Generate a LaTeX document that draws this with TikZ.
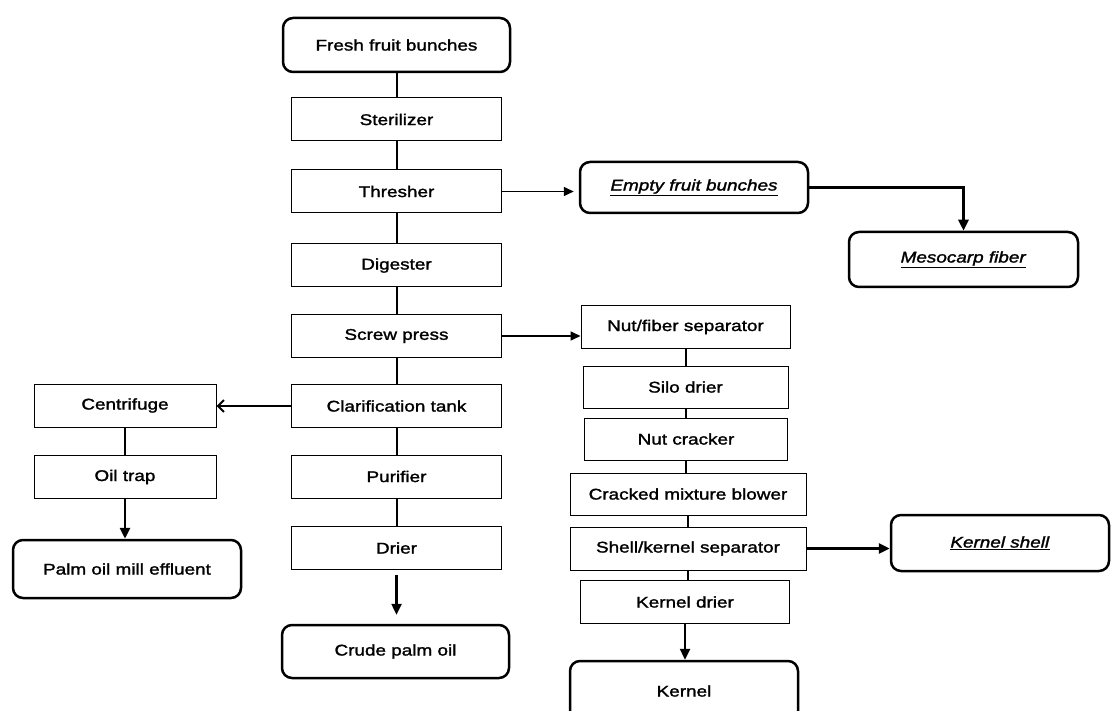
\documentclass[tikz,border=0pt]{standalone}
\usepackage{fontspec}
\setmainfont{Liberation Sans}[FakeStretch=1.22,FakeBold=1.6]
\usetikzlibrary{arrows.meta}
\newcommand{\boxfont}{\fontsize{15.5}{18}\selectfont}
\begin{document}
\begin{tikzpicture}[x=1pt,y=-1pt,
  box/.style={draw,line width=1pt,minimum height=43pt,inner sep=0pt,font=\boxfont},
  rbox/.style={draw,line width=2.5pt,rounded corners=10pt,inner sep=0pt,font=\boxfont},
  conn/.style={line width=2pt},
  arr/.style={line width=2.4pt,-{Triangle[length=11pt,width=10pt]}},
  thinarr/.style={line width=1.6pt,-{Triangle[length=10pt,width=9pt]}},
  thickarr/.style={line width=2.8pt,-{Triangle[length=11pt,width=10pt]}},
  barb/.style={line width=2pt,-{Straight Barb[length=6pt,width=12pt,line width=2pt]}}]
\useasboundingbox (0,0) rectangle (1111,711);
\clip (0,0) rectangle (1111,711);

% main column
\node[rbox,minimum width=227pt,minimum height=54pt] (ffb) at (396.5,45) {Fresh fruit bunches};
\node[box,minimum width=210pt] (ster) at (396.5,119.5) {Sterilizer};
\node[box,minimum width=210pt] (thr) at (396.5,191.5) {Thresher};
\node[box,minimum width=210pt] (dig) at (396.5,265.5) {Digester};
\node[box,minimum width=210pt] (scr) at (396.5,336) {Screw press};
\node[box,minimum width=210pt] (cla) at (396.5,406) {Clarification tank};
\node[box,minimum width=210pt] (pur) at (396.5,476.5) {Purifier};
\node[box,minimum width=210pt] (dri) at (396.5,548) {Drier};
\node[rbox,minimum width=227pt,minimum height=53pt] (cpo) at (395.5,651.5) {Crude palm oil};

% left column
\node[box,minimum width=182pt] (cen) at (125,405.5) {Centrifuge};
\node[box,minimum width=182pt] (oil) at (125,477) {Oil trap};
\node[rbox,minimum width=228pt,minimum height=58pt] (pome) at (127,569) {Palm oil mill effluent};

% right column
\node[rbox,minimum width=228pt,minimum height=51pt] (efb) at (694,187.5) {\underline{\textit{Empty fruit bunches}}};
\node[rbox,minimum width=229pt,minimum height=55pt] (meso) at (963.5,259.5) {\underline{\textit{Mesocarp fiber}}};
\node[box,minimum width=209pt,minimum height=42pt] (nfs) at (685.5,327) {Nut/fiber separator};
\node[box,minimum width=205pt,minimum height=42pt] (silo) at (685.5,387) {Silo drier};
\node[box,minimum width=203pt,minimum height=42pt] (nut) at (686,439) {Nut cracker};
\node[box,minimum width=236pt,minimum height=42pt] (cmb) at (688,494) {Cracked mixture blower};
\node[box,minimum width=236pt,minimum height=43pt] (sks) at (688,548.5) {Shell/kernel separator};
\node[box,minimum width=209pt,minimum height=43pt] (kd) at (685,602) {Kernel drier};
\node[rbox,minimum width=228pt,minimum height=60pt] (ker) at (684,691) {Kernel};
\node[rbox,minimum width=218pt,minimum height=56pt] (ks) at (1000,543) {\underline{\textit{Kernel shell}}};

% connectors main column
\draw[conn] (ffb) -- (ster);
\draw[conn] (ster) -- (thr);
\draw[conn] (thr) -- (dig);
\draw[conn] (dig) -- (scr);
\draw[conn] (scr) -- (cla);
\draw[conn] (cla) -- (pur);
\draw[conn] (pur) -- (dri);
\draw[arr,shorten <=5pt,shorten >=9pt] (dri.south) -- (dri.south |- cpo.north);

% left
\draw[barb] (cla.west) -- (cla.west -| cen.east);
\draw[conn] (cen) -- (oil);
\draw[thickarr] (oil.south) -- (oil.south |- pome.north);

% right
\draw[thinarr,shorten >=5pt] (thr.east) -- (thr.east -| efb.west);
\coordinate (bend) at (963.5,187.5);
\draw[thickarr] (efb.east) -- (bend) -- (meso.north);
\draw[thinarr] (scr.east) -- (scr.east -| nfs.west);
\draw[conn] (nfs.south) -- (nfs.south |- silo.north);
\draw[conn] (silo.south) -- (silo.south |- nut.north);
\draw[conn] (nut.south) -- (nut.south |- cmb.north);
\draw[conn] (cmb.south) -- (cmb.south |- sks.north);
\draw[conn] (sks.south) -- (sks.south |- kd.north);
\draw[thickarr] (sks.east) -- (sks.east -| ks.west);
\draw[arr] (kd.south) -- (kd.south |- ker.north);
\end{tikzpicture}
\end{document}
